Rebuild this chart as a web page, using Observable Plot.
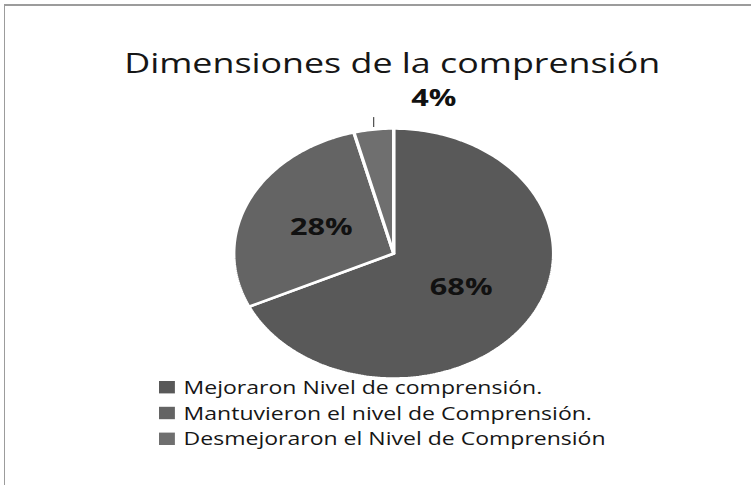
<!DOCTYPE html>
<html><head><meta charset="utf-8">
<script src="https://cdn.jsdelivr.net/npm/d3@7"></script>
<script src="https://cdn.jsdelivr.net/npm/@observablehq/plot@0.6"></script>
<style>
html,body{margin:0;padding:0;background:#fff;overflow:hidden;}
#chart{position:absolute;left:0;top:0;}
#chart svg{transform:scaleX(1.2794);transform-origin:0 0;display:block;}
#frame{position:absolute;left:3.5px;top:3.5px;width:800px;height:600px;border-left:1.6px solid #9c9c9c;border-top:2px solid #9c9c9c;pointer-events:none;}
</style>
</head><body><div id="chart"></div><div id="frame"></div>
<script>
const title = "Dimensiones de la comprensión";
const categories = ["Mejoraron Nivel de comprensión.", "Mantuvieron el nivel de Comprensión.", "Desmejoraron el Nivel de Comprensión"];
const values = [68, 28, 4];
const labels = ["68%", "28%", "4%"];
const colors = ["#595959", "#646464", "#6f6f6f"];

// layout (pre-stretch pixel space; the picture is stretched horizontally)
const W = 587, H = 485;
const cx = 307.2, cy = 253, R = 125;

const total = d3.sum(values);
let acc = 0;
const slices = values.map((v, i) => {
  const a0 = acc / total * 2 * Math.PI; acc += v;
  const a1 = acc / total * 2 * Math.PI;
  return {cat: categories[i], label: labels[i], v, a0, a1, mid: (a0 + a1) / 2};
});
const poly = [];
for (const s of slices) {
  poly.push({cat: s.cat, x: 0, y: 0});
  const n = Math.max(2, Math.ceil((s.a1 - s.a0) / (Math.PI / 180)));
  for (let k = 0; k <= n; k++) {
    const a = s.a0 + (s.a1 - s.a0) * k / n;
    poly.push({cat: s.cat, x: Math.sin(a), y: Math.cos(a)});
  }
  poly.push({cat: s.cat, x: 0, y: 0});
}
const inside = slices.filter(s => s.v >= 10).map(s => ({...s, x: 0.5 * Math.sin(s.mid), y: 0.5 * Math.cos(s.mid)}));
const outside = slices.filter(s => s.v < 10).map(s => ({...s,
  x1: Math.sin(s.mid), y1: 1.02 * Math.cos(s.mid),
  x2: Math.sin(s.mid), y2: 1.1 * Math.cos(s.mid),
  x: 1.25 * Math.sin(s.mid), y: 1.25 * Math.cos(s.mid)}));

const legendMarks = categories.flatMap((c, i) => [
  Plot.dot([c], {frameAnchor: "top-left", dx: 130, dy: 386.7 + 25.8 * i, symbol: "square", r: 7, fill: d => d}),
  Plot.text([c], {frameAnchor: "top-left", dx: 143, dy: 393.2 + 25.8 * i, text: d => d, textAnchor: "start", lineAnchor: "bottom", fontSize: 18, fill: "#161616"})
]);

const plot = Plot.plot({
  width: W, height: H,
  marginLeft: 0, marginRight: 0, marginTop: 0, marginBottom: 0,
  x: {domain: [-1, 1], range: [cx - R, cx + R], axis: null},
  y: {domain: [-1, 1], range: [cy + R, cy - R], axis: null},
  color: {domain: categories, range: colors},
  style: {fontFamily: "'Open Sans', sans-serif", background: "#fff", overflow: "visible"},
  marks: [
    Plot.text([title], {frameAnchor: "top-left", dx: 306, dy: 72, text: d => d, textAnchor: "middle", lineAnchor: "bottom", fontSize: 28, fill: "#161616"}),
    Plot.line(poly, {x: "x", y: "y", z: "cat", fill: "cat", stroke: "white", strokeWidth: 2.6, strokeLinejoin: "miter", curve: "linear"}),
    Plot.text(inside, {x: "x", y: "y", text: "label", fontWeight: "bold", fontSize: 24, fill: "#111"}),
    Plot.link(outside, {x1: "x1", y1: "y1", x2: "x2", y2: "y2", stroke: "#555", strokeWidth: 1}),
    Plot.text(outside, {x: "x", y: "y", text: "label", dx: 51, fontWeight: "bold", fontSize: 24, fill: "#111"}),
    ...legendMarks
  ]
});
document.getElementById("chart").appendChild(plot);
</script>
</body></html>
